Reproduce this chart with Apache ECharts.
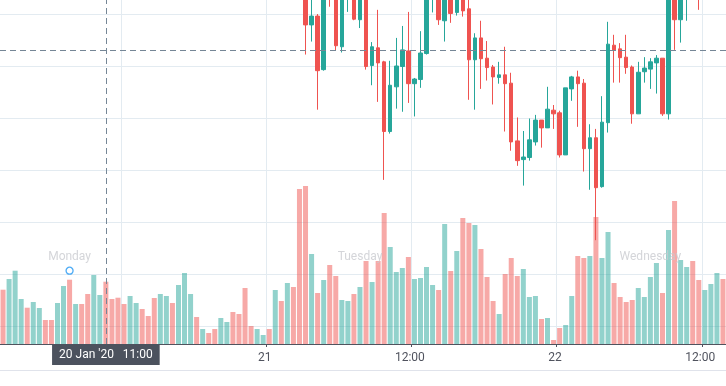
<!DOCTYPE html>
<html><head><meta charset="utf-8">
<script src="https://cdn.jsdelivr.net/npm/echarts@6/dist/echarts.min.js"></script>
<style>html,body{margin:0;padding:0;background:#fff}#c{width:726px;height:386px}</style>
</head><body><div id="c"></div>
<script>
// half-hour bars, 20 Jan 2020 02:30 -> 22 Jan 2020 14:00
const categories = [
'2020-01-20 02:30','2020-01-20 03:00','2020-01-20 03:30','2020-01-20 04:00','2020-01-20 04:30','2020-01-20 05:00','2020-01-20 05:30','2020-01-20 06:00','2020-01-20 06:30','2020-01-20 07:00',
'2020-01-20 07:30','2020-01-20 08:00','2020-01-20 08:30','2020-01-20 09:00','2020-01-20 09:30','2020-01-20 10:00','2020-01-20 10:30','2020-01-20 11:00','2020-01-20 11:30','2020-01-20 12:00',
'2020-01-20 12:30','2020-01-20 13:00','2020-01-20 13:30','2020-01-20 14:00','2020-01-20 14:30','2020-01-20 15:00','2020-01-20 15:30','2020-01-20 16:00','2020-01-20 16:30','2020-01-20 17:00',
'2020-01-20 17:30','2020-01-20 18:00','2020-01-20 18:30','2020-01-20 19:00','2020-01-20 19:30','2020-01-20 20:00','2020-01-20 20:30','2020-01-20 21:00','2020-01-20 21:30','2020-01-20 22:00',
'2020-01-20 22:30','2020-01-20 23:00','2020-01-20 23:30',
'2020-01-21 00:00','2020-01-21 00:30','2020-01-21 01:00','2020-01-21 01:30','2020-01-21 02:00','2020-01-21 02:30','2020-01-21 03:00','2020-01-21 03:30','2020-01-21 04:00','2020-01-21 04:30',
'2020-01-21 05:00','2020-01-21 05:30','2020-01-21 06:00','2020-01-21 06:30','2020-01-21 07:00','2020-01-21 07:30','2020-01-21 08:00','2020-01-21 08:30','2020-01-21 09:00','2020-01-21 09:30',
'2020-01-21 10:00','2020-01-21 10:30','2020-01-21 11:00','2020-01-21 11:30','2020-01-21 12:00','2020-01-21 12:30','2020-01-21 13:00','2020-01-21 13:30','2020-01-21 14:00','2020-01-21 14:30',
'2020-01-21 15:00','2020-01-21 15:30','2020-01-21 16:00','2020-01-21 16:30','2020-01-21 17:00','2020-01-21 17:30','2020-01-21 18:00','2020-01-21 18:30','2020-01-21 19:00','2020-01-21 19:30',
'2020-01-21 20:00','2020-01-21 20:30','2020-01-21 21:00','2020-01-21 21:30','2020-01-21 22:00','2020-01-21 22:30','2020-01-21 23:00','2020-01-21 23:30',
'2020-01-22 00:00','2020-01-22 00:30','2020-01-22 01:00','2020-01-22 01:30','2020-01-22 02:00','2020-01-22 02:30','2020-01-22 03:00','2020-01-22 03:30','2020-01-22 04:00','2020-01-22 04:30',
'2020-01-22 05:00','2020-01-22 05:30','2020-01-22 06:00','2020-01-22 06:30','2020-01-22 07:00','2020-01-22 07:30','2020-01-22 08:00','2020-01-22 08:30','2020-01-22 09:00','2020-01-22 09:30',
'2020-01-22 10:00','2020-01-22 10:30','2020-01-22 11:00','2020-01-22 11:30','2020-01-22 12:00','2020-01-22 12:30','2020-01-22 13:00','2020-01-22 13:30','2020-01-22 14:00'
];

// [open, high, low, close]; null = candle outside the visible price range
const ohlc = [
null,null,null,null,null,null,null,null,null,null,
null,null,null,null,null,null,null,null,null,null,
null,null,null,null,null,null,null,null,null,null,
null,null,null,null,null,null,null,null,null,null,
null,null,null,null,null,null,null,null,null,null,
[103.65,103.75,102.22,102.79],[102.79,103.30,102.47,102.96],[102.96,103.00,101.16,101.91],[101.93,103.75,101.91,103.56],
[104.04,104.10,103.14,103.46],[103.65,103.70,102.29,102.39],[102.37,103.65,102.26,103.56],[103.42,103.80,103.04,103.75],
[103.65,103.70,102.88,102.90],[102.89,103.55,102.73,103.46],[103.37,103.45,101.93,101.99],[102.01,102.46,101.63,102.37],
[102.35,103.08,101.31,102.06],[102.08,102.10,99.81,100.74],[100.74,102.10,100.70,101.63],[101.60,102.54,101.18,102.00],
[101.99,102.77,101.12,102.31],[102.29,103.04,101.29,101.66],[101.66,101.77,101.03,101.75],[101.74,102.67,101.58,102.25],
[102.24,103.55,102.22,103.46],[103.37,103.90,103.03,103.85],[103.75,103.85,102.79,102.89],[102.87,103.65,102.47,103.56],
[103.65,103.70,102.83,103.01],[103.03,103.55,102.97,103.46],[103.56,103.62,102.95,103.06],[103.10,103.31,101.35,102.12],
[102.12,102.63,101.16,102.54],[102.54,102.87,101.56,102.14],[102.15,102.48,101.72,101.97],[101.98,102.02,101.26,101.79],
[101.78,102.08,101.66,101.83],[101.83,102.37,100.74,101.66],[101.67,101.87,100.37,100.54],[100.56,101.01,100.08,100.18],
[100.20,100.75,99.70,100.25],[100.24,100.99,100.18,100.58],[100.54,101.06,100.47,100.96],[100.96,100.96,100.43,100.81],
[100.81,101.60,100.81,101.17],[101.15,101.25,100.79,101.08],[101.10,101.14,100.24,100.29],[100.29,101.58,100.29,101.58],
[101.56,101.81,101.33,101.79],[101.79,101.91,100.83,101.66],[101.67,101.75,99.97,100.41],[100.41,100.88,99.62,100.62],
[100.62,100.79,98.65,99.66],[99.68,101.42,99.66,100.92],[100.91,102.85,100.72,102.42],[102.40,102.60,101.68,102.31],
[102.33,102.44,101.68,102.16],[102.17,102.60,101.85,101.97],[101.98,102.01,100.89,101.08],[101.08,102.08,101.08,101.88],
[101.89,102.17,101.68,101.96],[101.94,102.15,101.56,102.08],[102.06,102.21,101.47,102.15],[102.15,102.15,101.04,101.08],
[101.08,103.75,100.97,103.65],[103.75,103.85,102.31,102.89],[102.89,103.75,102.45,103.65],[103.37,103.85,102.87,103.75],
null,[104.00,104.10,103.08,103.60],null,null,null,null
];

const volumes = [
543,650,733,450,363,420,360,240,240,410,
580,643,400,400,500,690,490,623,450,463,
400,480,410,350,280,460,500,480,410,590,
710,500,270,150,110,150,260,220,320,300,
560,180,150,90,150,540,430,610,570,1550,
1580,900,510,640,790,680,440,430,500,570,
830,620,830,1310,970,720,760,870,650,660,
770,590,540,1200,730,930,1260,1210,1190,950,
670,430,300,700,860,680,750,470,480,250,
260,40,160,190,480,880,860,880,1270,860,
1120,610,470,420,440,560,470,670,810,510,
1140,1430,840,770,830,640,540,600,710,650
];
// 1 = up bar, 0 = down bar
const volumeUp = [
0,1,1,1,0,1,1,0,0,1,
1,0,1,0,0,1,1,0,0,0,
0,1,1,0,0,0,1,1,0,1,
1,1,0,1,0,0,1,1,0,0,
0,0,1,1,0,1,0,1,0,0,
0,1,0,1,0,0,1,1,0,1,
0,1,0,0,1,1,1,0,1,1,
1,1,0,1,0,1,0,0,1,0,
0,0,1,0,0,0,1,1,1,0,
1,0,0,1,1,0,0,1,0,1,
1,0,0,0,0,1,1,1,1,0,
1,0,1,1,0,0,1,1,1,0
];

const gridTimes = ['2020-01-20 12:00','2020-01-21 00:00','2020-01-21 12:00','2020-01-22 00:00','2020-01-22 12:00'];
const tickLabels = {'2020-01-21 00:00':'21','2020-01-21 12:00':'12:00','2020-01-22 00:00':'22','2020-01-22 12:00':'12:00'};
const dayLabels = [['2020-01-20 08:00','Monday'],['2020-01-21 08:00','Tuesday'],['2020-01-22 08:00','Wednesday']];
const markerTimes = ['2020-01-20 08:00'];
const crosshairTime = '2020-01-20 11:00';
const crosshairPrice = 102.30;
const crosshairText = "20 Jan '20   11:00";

const UP = '#26a69a', DOWN = '#ef5350';
const UPV = 'rgba(38,166,154,0.5)', DOWNV = 'rgba(239,83,80,0.5)';
const GRID = '#e3ebf1', AXIS = '#50535e', CROSS = '#758696';
const FONT = 'Roboto, "Noto Sans", sans-serif';

const chart = echarts.init(document.getElementById('c'), null, {renderer: 'canvas'});
const gridInterval = (idx) => gridTimes.indexOf(categories[idx - 1]) >= 0;

chart.setOption({
  animation: false,
  backgroundColor: '#ffffff',
  tooltip: {show: true, triggerOn: 'none', showContent: false},
  grid: [
    {left: -2.28, right: -0.5, top: 14, bottom: 60},
    {left: -2.28, right: -0.5, top: 0, bottom: 42}
  ],
  xAxis: [
    {type: 'category', gridIndex: 0, data: categories, show: false},
    {type: 'category', gridIndex: 1, data: categories, boundaryGap: true,
      axisLine: {show: true, lineStyle: {color: AXIS, width: 1}},
      axisTick: {show: true, length: 3, interval: gridInterval, lineStyle: {color: AXIS}},
      splitLine: {show: true, interval: gridInterval, lineStyle: {color: GRID, width: 1}},
      axisLabel: {interval: (idx, v) => v in tickLabels, formatter: v => tickLabels[v] || '',
        color: AXIS, fontSize: 12, fontFamily: FONT, margin: 8, padding: [0, 0, 0, 3]},
      axisPointer: {show: true, type: 'line', snap: true, status: 'show', triggerTooltip: false,
        value: categories.indexOf(crosshairTime),
        lineStyle: {color: CROSS, width: 1, type: [6, 4]},
        label: {show: true, formatter: () => crosshairText, backgroundColor: '#4c525e', color: '#ffffff',
          fontSize: 12, fontFamily: FONT, padding: [5, 7, 4, 7], margin: 0, borderRadius: 0}}
    }
  ],
  yAxis: [
    {type: 'value', gridIndex: 0, min: 97, max: 103, interval: 1,
      axisLine: {show: false}, axisTick: {show: false}, axisLabel: {show: false},
      splitLine: {show: true, lineStyle: {color: GRID, width: 1}},
      axisPointer: {show: true, type: 'line', status: 'show', triggerTooltip: false, value: crosshairPrice,
        lineStyle: {color: CROSS, width: 1, type: [6, 4]}, label: {show: false}}},
    {type: 'value', gridIndex: 1, min: 0, max: 3440,
      axisLine: {show: false}, axisTick: {show: false}, axisLabel: {show: false}, splitLine: {show: false}}
  ],
  graphic: [{type: 'line', silent: true, shape: {x1: 0, y1: 370.5, x2: 726, y2: 370.5}, style: {stroke: '#e0e3eb', lineWidth: 1}}],
  series: [
    {type: 'bar', name: 'Volume', xAxisIndex: 1, yAxisIndex: 1, barWidth: 5, silent: true,
      data: volumes.map((v, k) => ({value: v, itemStyle: {color: volumeUp[k] ? UPV : DOWNV}}))},
    {type: 'scatter', xAxisIndex: 1, yAxisIndex: 1, symbol: 'circle', symbolSize: 0, silent: true, z: 5,
      data: dayLabels.map(d => ({name: d[1], value: [d[0], 870]})),
      label: {show: true, position: 'inside', formatter: p => p.name, color: '#c9cbd0', fontSize: 12, fontFamily: FONT}},
    {type: 'scatter', xAxisIndex: 1, yAxisIndex: 1, symbol: 'circle', symbolSize: 7, silent: true, z: 5,
      data: markerTimes.map(t => [t, 733]),
      itemStyle: {color: '#ffffff', borderColor: '#2196f3', borderWidth: 1.3}},
    {type: 'candlestick', name: 'Price', xAxisIndex: 0, yAxisIndex: 0, barWidth: 4, silent: true, z: 3, clip: false,
      data: ohlc.map(d => d ? [d[0], d[3], d[2], d[1]] : '-'),
      itemStyle: {color: UP, color0: DOWN, borderColor: UP, borderColor0: DOWN, borderWidth: 1}}
  ]
});
</script></body></html>
